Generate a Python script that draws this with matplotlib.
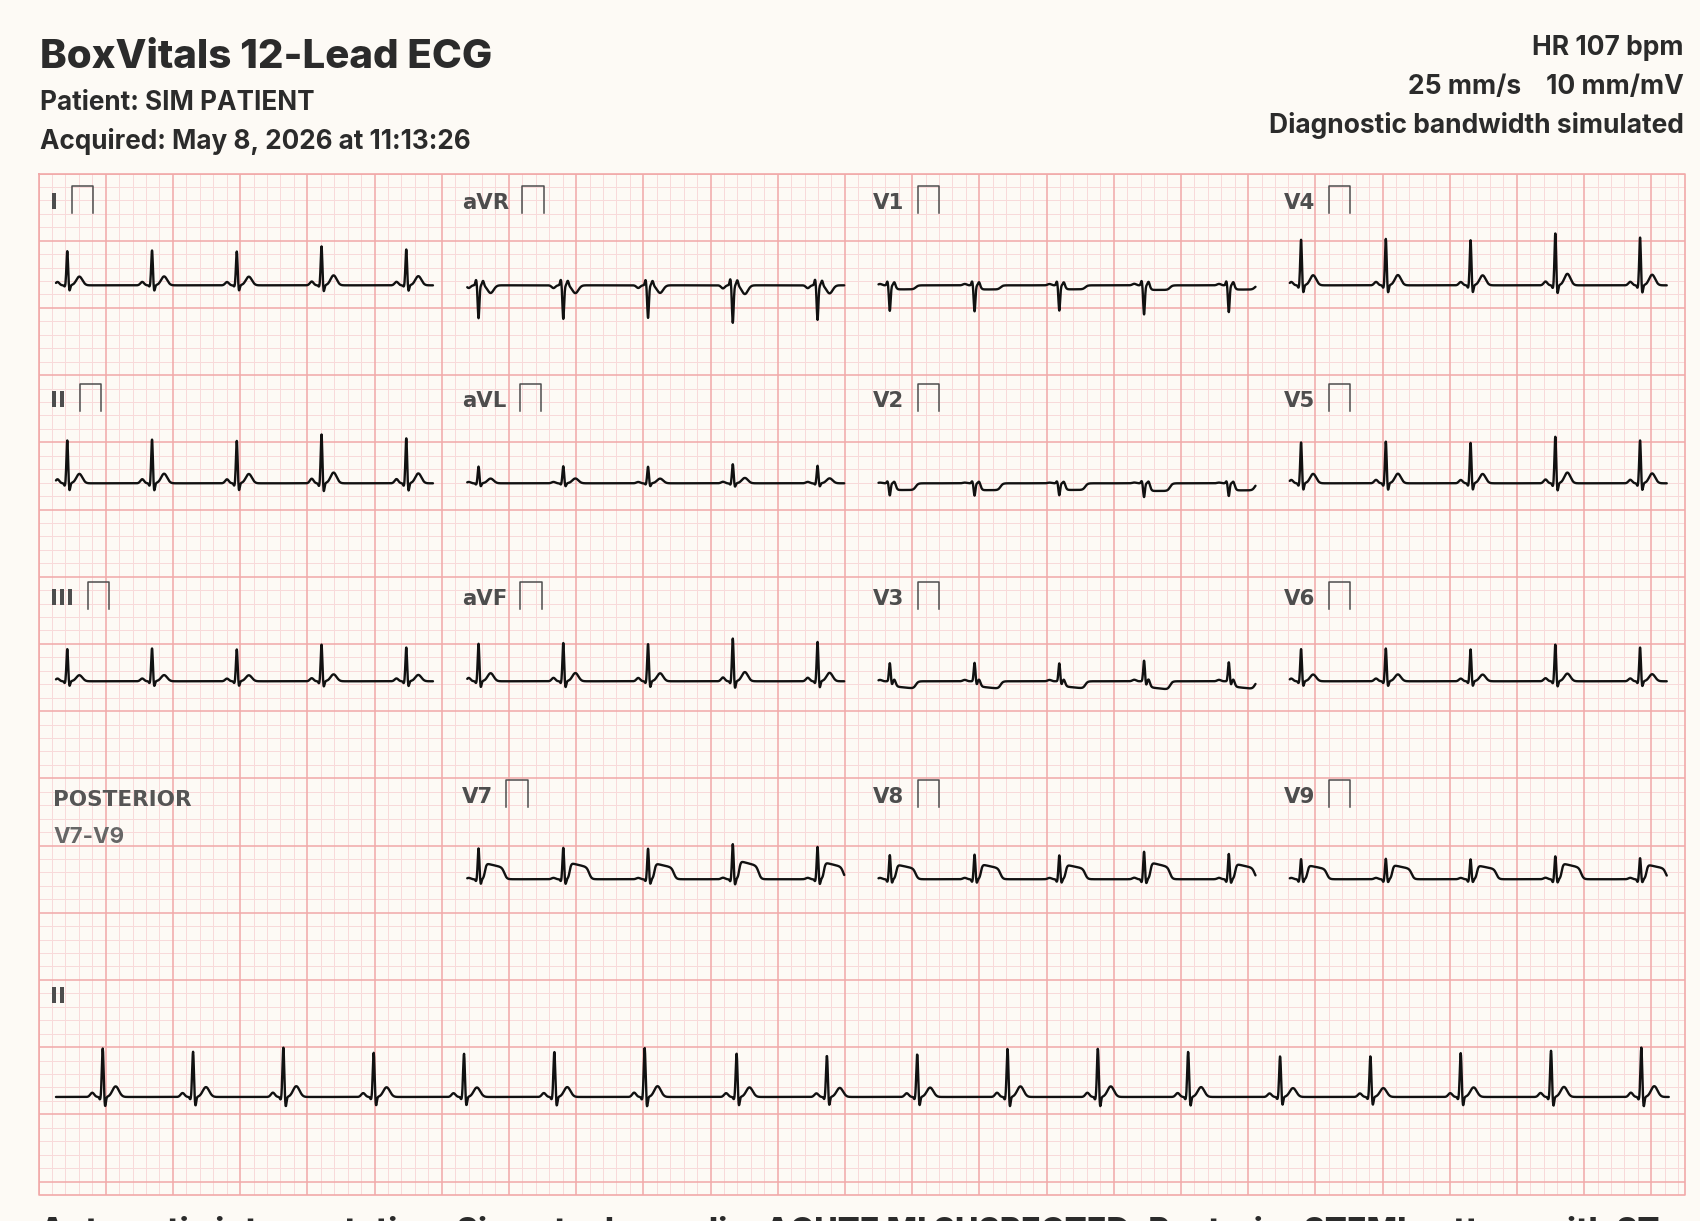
import numpy as np
import matplotlib.pyplot as plt

plt.rcParams['font.family'] = ['Inter', 'DejaVu Sans']

# ---- data ------------------------------------------------------------------
leads = ['I', 'aVR', 'V1', 'V4',
         'II', 'aVL', 'V2', 'V5',
         'III', 'aVF', 'V3', 'V6',
         'V7', 'V8', 'V9']

# wave amplitudes in mm (small squares), positive = up
p_amp  = [0.25, -0.20, 0.10, 0.25, 0.30, 0.10, 0.05, 0.25, 0.20, 0.25, 0.10, 0.20, 0.10, 0.10, 0.10]
q_amp  = [-0.10, 0.42, 0.30, -0.20, -0.20, -0.10, 0.15, -0.20, -0.15, -0.15, 0.00, -0.15, -0.15, -0.20, -0.20]
r_amp  = [2.55, -2.45, -1.90, 3.40, 3.20, 1.25, -0.90, 3.05, 2.40, 2.80, 1.35, 2.40, 2.30, 1.80, 1.50]
s_amp  = [-0.45, 0.00, 0.00, -0.60, -0.60, -0.25, 0.00, -0.55, -0.40, -0.50, -0.25, -0.40, -0.40, -0.30, -0.25]
rp_amp = [0.00, 0.35, 0.25, 0.00, 0.00, 0.00, 0.15, 0.00, 0.00, 0.00, 0.15, 0.00, 0.00, 0.00, 0.00]
t_amp  = [0.65, -0.57, 0.00, 0.75, 0.70, 0.35, 0.00, 0.70, 0.45, 0.60, 0.00, 0.50, 0.00, 0.00, 0.00]
st_amp = [0.0, 0.0, -0.30, 0.0, 0.0, 0.0, -0.50, 0.0, 0.0, 0.0, -0.42, 0.0, 1.15, 1.05, 1.00]
st_tilt = [0.0, 0.0, 0.0, 0.0, 0.0, 0.0, 0.0, 0.0, 0.0, 0.0, -0.30, 0.0, 0.25, 0.25, 0.25]

panel_beats = [0.075, 0.637, 1.199, 1.761, 2.323]       # s
panel_gain = [1.00, 1.02, 0.99, 1.14, 1.05]

rhythm_beats = [0.29, 0.85, 1.41, 1.97, 2.53, 3.09, 3.65, 4.22, 4.78,
                5.34, 5.90, 6.46, 7.02, 7.59, 8.15, 8.71, 9.27, 9.83]
rhythm_gain = [1.05, 0.98, 1.07, 0.96, 0.94, 0.98, 1.07, 0.95, 0.90,
               0.93, 1.05, 1.05, 0.98, 0.88, 0.88, 0.95, 1.00, 1.07]
rhythm_wave = dict(p=0.30, q=-0.20, r=3.45, s=-0.75, rp=0.0, t=0.75, st=0.0, tilt=0.0)

# ---- look -----------------------------------------------------------------
BG = '#fdfaf5'
MAJOR = '#f1a9a9'
MINOR = '#f8dada'
INK = '#2b2b2b'
LABEL = '#4d4d4d'
LABEL_FONT = ['DejaVu Sans']

W, H = 1700, 1221
MM = 13.44                 # px per small square
GX0, GY0 = 38.5, 173.5     # grid top-left in px
GRID_W, GRID_H = 122.5, 76.0

fig = plt.figure(figsize=(W / 100, H / 100), dpi=100, facecolor=BG)
ax = fig.add_axes([GX0 / W, 1 - (GY0 + GRID_H * MM) / H, GRID_W * MM / W, GRID_H * MM / H])
ax.set_xlim(0, GRID_W)
ax.set_ylim(GRID_H, 0)
ax.set_facecolor(BG)
ax.axis('off')

# paper grid
for x in np.arange(0, 123):
    major = x % 5 == 0
    ax.axvline(x, color=MAJOR if major else MINOR, lw=1.1 if major else 0.7, zorder=1 if major else 0)
for y in np.arange(0, 77):
    major = y % 5 == 0
    ax.axhline(y, color=MAJOR if major else MINOR, lw=1.1 if major else 0.7, zorder=1 if major else 0)
ax.plot([0, GRID_W, GRID_W, 0, 0], [0, 0, GRID_H, GRID_H, 0], color=MAJOR, lw=1.2, zorder=1,
        clip_on=False)


def gauss(t, a, c, s):
    return a * np.exp(-0.5 * ((t - c) / s) ** 2)


def sig(x):
    return 1 / (1 + np.exp(-x))


def beat(dt, p, q, r, s, rp, t, st, tilt):
    v = (gauss(dt, p, -0.065, 0.012) + gauss(dt, q, -0.016, 0.005) + gauss(dt, r, 0, 0.0055)
         + gauss(dt, s, 0.014, 0.005) + gauss(dt, rp, 0.030, 0.006) + gauss(dt, t, 0.080, 0.020))
    seg = sig((dt - 0.042) / 0.005) * sig((0.172 - dt) / 0.008)
    v = v + st * seg * (1 - tilt * np.clip((dt - 0.06) / 0.11, 0, 1))
    return v


def trace(tt, beats, gains, w):
    v = np.zeros_like(tt)
    for tb, g in zip(beats, gains):
        v += g * beat(tt - tb, **w)
    return v


COL_X0 = 1.30
COL_STEP = 30.6
ROW_Y0 = 8.32
ROW_STEP = 14.73
PANEL_SPEED = 11.22        # mm per s in the 2.5 s panels
PANEL_T = 2.5

positions = []
for i in range(12):
    positions.append((i // 4, i % 4))
positions += [(3, 1), (3, 2), (3, 3)]

labels = []
tt = np.linspace(0, PANEL_T, 1500)
for i, name in enumerate(leads):
    row, col = positions[i]
    x0 = COL_X0 + col * COL_STEP
    yb = ROW_Y0 + row * ROW_STEP
    w = dict(p=p_amp[i], q=q_amp[i], r=r_amp[i], s=s_amp[i], rp=rp_amp[i],
             t=t_amp[i], st=st_amp[i], tilt=st_tilt[i])
    v = trace(tt, panel_beats, panel_gain, w)
    ax.plot(x0 + tt * PANEL_SPEED, yb - v, color='#111111', lw=1.7,
            solid_joinstyle='round', solid_capstyle='round', zorder=3)
    lbl = ax.text(x0 - 0.41, yb - 5.65, name, color=LABEL, fontsize=15.3, family=LABEL_FONT,
                  fontweight='bold', va='baseline', ha='left', zorder=4)
    labels.append((lbl, yb))

# posterior note in the empty slot
yb4 = ROW_Y0 + 3 * ROW_STEP
ax.text(1.1, yb4 - 5.45, 'POSTERIOR', color='#555555', fontsize=15.5, family=LABEL_FONT,
        fontweight='bold', va='baseline', ha='left', zorder=4)
ax.text(1.1, yb4 - 2.72, 'V7-V9', color='#666666', fontsize=16, family=['Inter'],
        fontweight='bold', va='baseline', ha='left', zorder=4)

# rhythm strip
RHY_Y = 68.71
RHY_SPEED = 12.0
tr = np.linspace(0, 10, 5000)
vr = trace(tr, rhythm_beats, rhythm_gain, rhythm_wave)
ax.plot(COL_X0 + tr * RHY_SPEED, RHY_Y - vr, color='#111111', lw=1.7,
        solid_joinstyle='round', solid_capstyle='round', zorder=3)
ax.text(COL_X0 - 0.41, RHY_Y - 7.0, 'II', color=LABEL, fontsize=15.3, family=LABEL_FONT,
        fontweight='bold', va='baseline', ha='left', zorder=4)

# calibration marks next to lead names
fig.canvas.draw()
inv = ax.transData.inverted()
for lbl, yb in labels:
    bb = lbl.get_window_extent()
    xr = inv.transform((bb.x1, bb.y0))[0]
    bx0 = xr + 1.0
    bx1 = bx0 + 1.58
    ax.plot([bx0, bx0, bx1, bx1], [yb - 5.38, yb - 7.39, yb - 7.39, yb - 5.38],
            color=LABEL, lw=1.1, zorder=4)

# header
fig.text(40 / W, 1 - 68 / H, 'BoxVitals 12-Lead ECG', color=INK, fontsize=29,
         fontweight='heavy', va='baseline', ha='left')
fig.text(40 / W, 1 - 110 / H, 'Patient: SIM PATIENT', color=INK, fontsize=18.8,
         fontweight='bold', va='baseline', ha='left')
fig.text(40 / W, 1 - 149 / H, 'Acquired: May 8, 2026 at 11:13:26', color=INK, fontsize=18.8,
         fontweight='bold', va='baseline', ha='left')
fig.text(1684 / W, 1 - 55 / H, 'HR 107 bpm', color=INK, fontsize=19,
         fontweight='bold', va='baseline', ha='right')
fig.text(1684 / W, 1 - 94 / H, '25 mm/s    10 mm/mV', color=INK, fontsize=19,
         fontweight='bold', va='baseline', ha='right')
fig.text(1684 / W, 1 - 133 / H, 'Diagnostic bandwidth simulated', color=INK, fontsize=19,
         fontweight='bold', va='baseline', ha='right')

# interpretation line, cut off by the bottom edge as in the reference
fig.text(40 / W, 1 - 1216 / H,
         'Automatic interpretation: Sinus tachycardia. ACUTE MI SUSPECTED. Posterior STEMI pattern with ST',
         color=INK, fontsize=23.3, fontweight='heavy', va='top', ha='left')

fig.savefig('out.png', dpi=100, facecolor=BG)
